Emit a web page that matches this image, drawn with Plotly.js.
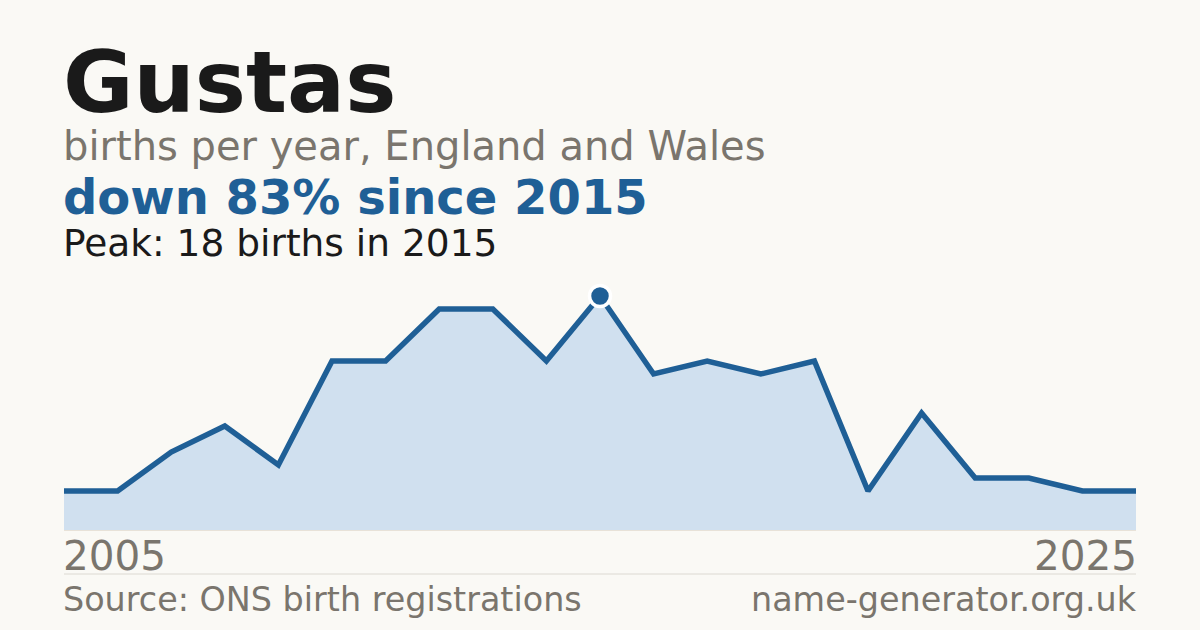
<!DOCTYPE html>
<html>
<head>
<meta charset="utf-8">
<script src="https://cdn.plot.ly/plotly-3.0.1.min.js"></script>
<style>
  html, body { margin: 0; padding: 0; background: #faf9f5; }
  #chart { width: 1200px; height: 630px; }
</style>
</head>
<body>
<div id="chart"></div>
<script>
// births per year
var years = [2005, 2006, 2007, 2008, 2009, 2010, 2011, 2012, 2013, 2014, 2015,
             2016, 2017, 2018, 2019, 2020, 2021, 2022, 2023, 2024, 2025];
var births = [3, 3, 6, 8, 5, 13, 13, 17, 17, 13, 18,
              12, 13, 12, 13, 3, 9, 4, 4, 3, 3];

var nameTitle = "Gustas";
var subTitle = "births per year, England and Wales";
var sourceText = "Source: ONS birth registrations";
var siteText = "name-generator.org.uk";

var peak = Math.max.apply(null, births);
var peakYear = years[births.indexOf(peak)];
var last = births[births.length - 1];
var drop = Math.round((peak - last) / peak * 100);

var blue = "#1f5f96";
var grey = "#7a756d";

// plot area runs from y=270 to y=530 px; convert pixel rows to paper units
function py(Y) { return (530 - Y) / 260; }

var data = [
  {
    type: "scatter",
    mode: "lines",
    x: years,
    y: births,
    fill: "tozeroy",
    fillcolor: "#d0e0ef",
    line: { color: blue, width: 5.5 },
    hoverinfo: "x+y"
  },
  {
    type: "scatter",
    mode: "markers",
    x: [peakYear],
    y: [peak],
    marker: { size: 21, color: blue, line: { color: "#ffffff", width: 3.5 } },
    hoverinfo: "x+y"
  }
];

function note(text, x, Y, size, color, bold, anchor) {
  var right = anchor === "right";
  return {
    xref: "paper", yref: "paper", x: x, y: py(Y),
    xanchor: right ? "right" : "left", yanchor: "middle",
    xshift: right ? 3 : -3,
    text: bold ? "<b>" + text + "</b>" : text,
    showarrow: false,
    font: { family: "DejaVu Sans", size: size, color: color }
  };
}

var layout = {
  width: 1200,
  height: 630,
  margin: { l: 64, r: 64, t: 270, b: 100 },
  paper_bgcolor: "#faf9f5",
  plot_bgcolor: "#faf9f5",
  showlegend: false,
  font: { family: "DejaVu Sans" },
  xaxis: { range: [years[0], years[years.length - 1]], visible: false, fixedrange: true },
  yaxis: { range: [0, 20], showgrid: false, showticklabels: false,
           zeroline: true, zerolinecolor: "#e8e2d8", zerolinewidth: 1, fixedrange: true },
  shapes: [{
    type: "line", xref: "paper", yref: "paper",
    x0: 0, x1: 1, y0: py(574), y1: py(574),
    line: { color: "#dcd9d2", width: 1 }
  }],
  annotations: [
    note(nameTitle, 0, 82, 86, "#1a1a1a", true),
    note(subTitle, 0, 146, 40, grey, false),
    note("down " + drop + "% since " + peakYear, 0, 197, 48, blue, true),
    note("Peak: " + peak + " births in " + peakYear, 0, 243, 37.5, "#1a1a1a", false),
    note(String(years[0]), 0, 556, 40.5, grey, false),
    note(String(years[years.length - 1]), 1, 556, 40.5, grey, false, "right"),
    note(sourceText, 0, 599, 33.4, grey, false),
    note(siteText, 1, 599, 33.4, grey, false, "right")
  ]
};

Plotly.newPlot("chart", data, layout, { displayModeBar: false, staticPlot: true });
</script>
</body>
</html>
